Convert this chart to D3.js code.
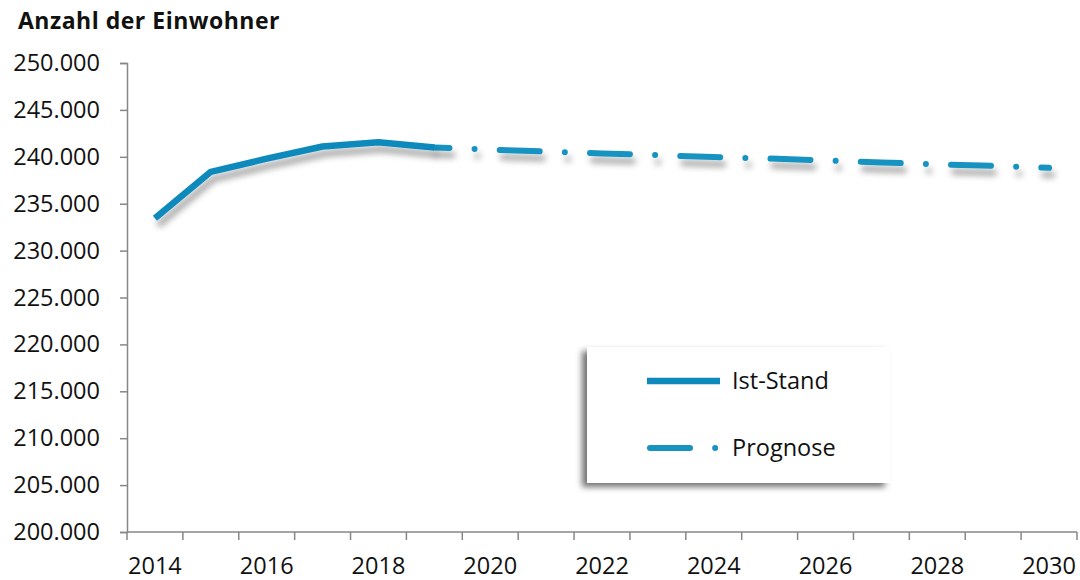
<!DOCTYPE html>
<html>
<head>
<meta charset="utf-8">
<script src="https://cdn.jsdelivr.net/npm/d3@7"></script>
<style>
  body { margin: 0; background: #fff; }
  text { font-family: "Open Sans", sans-serif; fill: #111; }
</style>
</head>
<body>
<div id="chart"></div>
<script>
// data
var years = [2014, 2015, 2016, 2017, 2018, 2019, 2020, 2021, 2022, 2023, 2024, 2025, 2026, 2027, 2028, 2029, 2030];
var istStand = [233450, 238400, 239800, 241100, 241550, 241000];
var prognose = [241000, 240770, 240560, 240360, 240180, 239970, 239810, 239610, 239400, 239200, 239040, 238820];
var yTicks = [200000, 205000, 210000, 215000, 220000, 225000, 230000, 235000, 240000, 245000, 250000];
var xLabels = [2014, 2016, 2018, 2020, 2022, 2024, 2026, 2028, 2030];
var seriesNames = ["Ist-Stand", "Prognose"];

var width = 1080, height = 580;
var plotLeft = 127, plotRight = 1077, plotTop = 63, plotBottom = 532;

var svg = d3.select("#chart").append("svg")
  .attr("width", width)
  .attr("height", height);

var defs = svg.append("defs");
var lineShadow = defs.append("filter").attr("id", "lineShadow")
  .attr("x", "-10%").attr("y", "-50%").attr("width", "120%").attr("height", "300%");
lineShadow.append("feDropShadow")
  .attr("dx", 3).attr("dy", 7).attr("stdDeviation", 3)
  .attr("flood-color", "#000").attr("flood-opacity", 0.35);

var boxShadow = defs.append("filter").attr("id", "boxShadow")
  .attr("x", "-10%").attr("y", "-10%").attr("width", "120%").attr("height", "130%");
boxShadow.append("feDropShadow")
  .attr("dx", -5).attr("dy", 4).attr("stdDeviation", 3)
  .attr("flood-color", "#000").attr("flood-opacity", 0.55);

var de = d3.formatLocale({decimal: ",", thousands: ".", grouping: [3], currency: ["", " €"]});
var fmt = de.format(",d");

var x = d3.scaleBand().domain(years).range([plotLeft, plotRight]).padding(0);
var y = d3.scaleLinear().domain([200000, 250000]).range([plotBottom, plotTop]);

var axisColor = "#878787";

// title
svg.append("text")
  .attr("x", 18).attr("y", 29)
  .style("font-size", "23px").style("font-weight", "bold")
  .style("letter-spacing", "0.5px")
  .text("Anzahl der Einwohner");

// y axis
var yAxis = d3.axisLeft(y).tickValues(yTicks).tickSize(7).tickPadding(20).tickFormat(fmt);
var gy = svg.append("g").attr("transform", "translate(" + plotLeft + ",0)").call(yAxis);
gy.select(".domain").attr("stroke", axisColor).attr("stroke-width", 1.5);
gy.selectAll(".tick line").attr("stroke", axisColor).attr("stroke-width", 1.5);
gy.selectAll(".tick text")
  .style("font-family", "'Open Sans', sans-serif")
  .style("font-size", "23.5px").attr("fill", "#111");

// x axis: tick marks on category boundaries, labels every second year
var gx = svg.append("g").attr("transform", "translate(0," + plotBottom + ")");
gx.append("line")
  .attr("x1", plotLeft).attr("x2", plotRight).attr("y1", 0).attr("y2", 0)
  .attr("stroke", axisColor).attr("stroke-width", 1.5);
var bounds = years.map(function(d){ return x(d); }).concat([x(years[years.length - 1]) + x.bandwidth()]);
gx.selectAll(".xtick").data(bounds).enter().append("line")
  .attr("x1", function(d){ return d; }).attr("x2", function(d){ return d; })
  .attr("y1", 0).attr("y2", 8)
  .attr("stroke", axisColor).attr("stroke-width", 1.5);
gx.selectAll(".xlabel").data(xLabels).enter().append("text")
  .attr("x", function(d){ return x(d) + x.bandwidth() / 2; })
  .attr("y", 42)
  .attr("text-anchor", "middle")
  .style("font-size", "23.5px")
  .text(function(d){ return d; });

var cx = function(d){ return x(d) + x.bandwidth() / 2; };

// prognose (dash-dot)
var progYears = years.slice(5);
var progLine = d3.line()
  .x(function(d, i){ return cx(progYears[i]); })
  .y(function(d){ return y(d); });
svg.append("path")
  .datum(prognose)
  .attr("d", progLine)
  .attr("fill", "none")
  .attr("stroke", "#1893c1")
  .attr("stroke-width", 6)
  .attr("stroke-linecap", "round")
  .attr("stroke-dasharray", "40 25.15 0.01 25.15")
  .attr("stroke-dashoffset", 24.9)
  .attr("filter", "url(#lineShadow)");

// ist-stand (solid)
var istYears = years.slice(0, 6);
var istLine = d3.line()
  .x(function(d, i){ return cx(istYears[i]); })
  .y(function(d){ return y(d); });
svg.append("path")
  .datum(istStand)
  .attr("d", istLine)
  .attr("fill", "none")
  .attr("stroke", "#0e89bc")
  .attr("stroke-width", 6.5)
  .attr("stroke-linejoin", "round")
  .attr("filter", "url(#lineShadow)");

// legend
var legend = svg.append("g");
legend.append("rect")
  .attr("x", 587).attr("y", 347).attr("width", 303).attr("height", 136)
  .attr("fill", "#fff").attr("filter", "url(#boxShadow)");

legend.append("line")
  .attr("x1", 647).attr("x2", 720).attr("y1", 381).attr("y2", 381)
  .attr("stroke", "#0e89bc").attr("stroke-width", 6.5);
legend.append("line")
  .attr("x1", 650).attr("x2", 719).attr("y1", 448).attr("y2", 448)
  .attr("stroke", "#1893c1").attr("stroke-width", 6)
  .attr("stroke-linecap", "round")
  .attr("stroke-dasharray", "40 25.15 0.01 25.15");

legend.selectAll(".ltext").data(seriesNames).enter().append("text")
  .attr("x", 732)
  .attr("y", function(d, i){ return 381 + i * 67; })
  .attr("dy", "0.35em")
  .style("font-size", "23.5px")
  .text(function(d){ return d; });
</script>
</body>
</html>
